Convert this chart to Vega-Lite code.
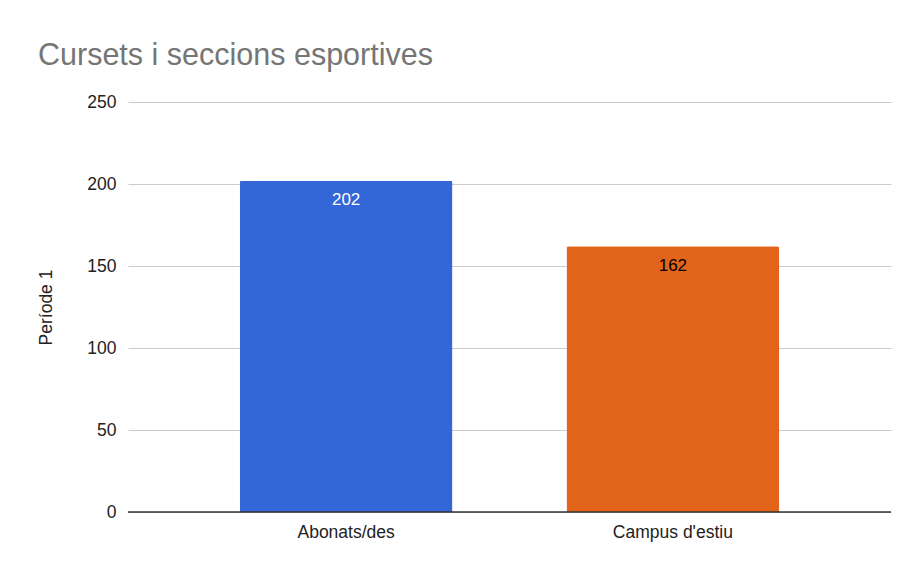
{
  "$schema": "https://vega.github.io/schema/vega-lite/v6.json",
  "width": 763,
  "height": 410,
  "autosize": {"type": "none"},
  "padding": {"left": 128, "top": 102, "right": 19, "bottom": 53},
  "background": "white",
  "title": {
    "text": "Cursets i seccions esportives",
    "anchor": "start",
    "frame": "group",
    "dx": -90,
    "offset": 22,
    "font": "Liberation Sans",
    "fontSize": 30.5,
    "fontWeight": "normal",
    "color": "#757575"
  },
  "data": {
    "values": [
      {"categoria": "Abonats/des", "valor": 202, "labelColor": "white"},
      {"categoria": "Campus d'estiu", "valor": 162, "labelColor": "black"}
    ]
  },
  "encoding": {
    "x": {
      "field": "categoria",
      "type": "nominal",
      "sort": null,
      "scale": {"paddingInner": 0.349, "paddingOuter": 0.342},
      "axis": {
        "title": null,
        "labelAngle": 0,
        "labelFont": "Liberation Sans",
        "labelFontSize": 17.5,
        "labelColor": "#222222",
        "labelPadding": 11,
        "ticks": false,
        "domain": false,
        "grid": false
      }
    },
    "y": {
      "field": "valor",
      "type": "quantitative",
      "scale": {"domain": [0, 250], "nice": false},
      "axis": {
        "title": "Període 1",
        "values": [0, 50, 100, 150, 200, 250],
        "titleFont": "Liberation Sans",
        "titleFontSize": 17.5,
        "titleFontWeight": "normal",
        "titleColor": "#222222",
        "titlePadding": 31,
        "labelFont": "Liberation Sans",
        "labelFontSize": 17.5,
        "labelColor": "#222222",
        "labelPadding": 12,
        "ticks": false,
        "domain": false,
        "gridColor": "#cccccc",
        "gridWidth": 1
      }
    }
  },
  "layer": [
    {
      "mark": {"type": "bar", "cornerRadiusTopLeft": 2, "cornerRadiusTopRight": 2},
      "encoding": {
        "color": {
          "field": "categoria",
          "type": "nominal",
          "scale": {"domain": ["Abonats/des", "Campus d'estiu"], "range": ["#3366d6", "#e2641b"]},
          "legend": null
        }
      }
    },
    {
      "mark": {"type": "rule", "color": "#333333", "strokeWidth": 1},
      "encoding": {
        "x": {"value": 0},
        "x2": {"value": 763},
        "y": {"datum": 0}
      }
    },
    {
      "mark": {"type": "text", "baseline": "middle", "dy": 19.5, "font": "Liberation Sans", "fontSize": 17},
      "encoding": {
        "text": {"field": "valor", "type": "quantitative"},
        "color": {"field": "labelColor", "type": "nominal", "scale": null}
      }
    }
  ],
  "config": {"view": {"stroke": null}}
}
